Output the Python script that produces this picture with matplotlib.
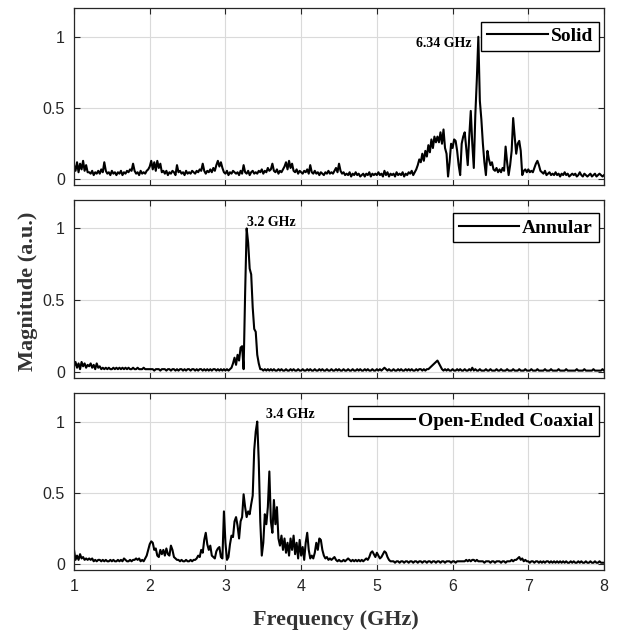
import numpy as np
import matplotlib
matplotlib.use('Agg')
from matplotlib import pyplot as plt

# frequency axis of the spectra, 1 to 8 GHz in 0.02 GHz steps (351 samples)
freq = np.linspace(1, 8, 351)

# normalised magnitudes, one row = 0.2 GHz
solid = [
    .10, .06, .12, .05, .11, .07, .13, .06, .10, .05,  # 1.0
    .05, .04, .06, .03, .05, .04, .06, .04, .07, .05,  # 1.2
    .12, .06, .04, .05, .03, .06, .04, .05, .03, .05,  # 1.4
    .04, .06, .03, .05, .04, .06, .05, .07, .06, .11,  # 1.6
    .06, .04, .05, .03, .06, .04, .05, .04, .06, .07,  # 1.8
    .09, .13, .07, .12, .06, .13, .08, .11, .05, .06,  # 2.0
    .04, .06, .03, .05, .04, .06, .05, .03, .10, .05,  # 2.2
    .06, .04, .05, .03, .06, .04, .05, .04, .06, .05,  # 2.4
    .04, .06, .05, .07, .06, .11, .06, .04, .06, .05,  # 2.6
    .07, .05, .08, .06, .10, .13, .09, .12, .08, .05,  # 2.8
    .04, .06, .03, .05, .04, .06, .05, .04, .05, .03,  # 3.0
    .06, .04, .10, .05, .04, .06, .03, .05, .06, .04,  # 3.2
    .05, .04, .06, .05, .07, .04, .06, .05, .08, .06,  # 3.4
    .07, .11, .06, .05, .07, .04, .06, .05, .07, .09,  # 3.6
    .12, .07, .13, .08, .11, .06, .05, .07, .04, .06,  # 3.8
    .05, .04, .06, .05, .07, .04, .10, .05, .04, .06,  # 4.0
    .04, .05, .03, .05, .04, .03, .05, .04, .06, .04,  # 4.2
    .05, .04, .06, .08, .05, .11, .06, .04, .05, .03,  # 4.4
    .04, .03, .05, .02, .04, .03, .05, .03, .04, .02,  # 4.6
    .03, .04, .02, .04, .03, .05, .02, .04, .03, .04,  # 4.8
    .03, .05, .03, .04, .02, .06, .03, .05, .02, .04,  # 5.0
    .03, .04, .02, .05, .03, .04, .03, .05, .02, .04,  # 5.2
    .03, .05, .04, .06, .03, .05, .07, .10, .14, .12,  # 5.4
    .18, .13, .20, .16, .24, .19, .28, .22, .30, .26,  # 5.6
    .30, .26, .33, .25, .35, .22, .18, .02, .12, .25,  # 5.8
    .22, .28, .27, .20, .10, .03, .25, .30, .33, .22,  # 6.0
    .10, .30, .48, .25, .08, .45, .70, 1.0, .55, .42,  # 6.2
    .25, .12, .03, .20, .14, .10, .12, .07, .06, .08,  # 6.4
    .05, .07, .05, .08, .06, .23, .12, .03, .10, .20,  # 6.6
    .43, .30, .18, .25, .27, .20, .03, .06, .07, .05,  # 6.8
    .07, .05, .06, .05, .08, .11, .13, .10, .06, .05,  # 7.0
    .04, .06, .03, .04, .05, .03, .04, .03, .05, .03,  # 7.2
    .04, .02, .04, .03, .05, .03, .04, .02, .03, .04,  # 7.4
    .03, .04, .02, .03, .05, .03, .02, .04, .03, .02,  # 7.6
    .03, .04, .02, .03, .04, .02, .03, .04, .03, .02,  # 7.8
    .03]

annular = [
    .04, .07, .03, .06, .02, .07, .04, .06, .03, .05,  # 1.0
    .04, .06, .03, .05, .02, .06, .03, .04, .02, .03,  # 1.2
    .02, .03, .02, .03, .02, .02, .03, .02, .03, .02,  # 1.4
    .03, .02, .03, .02, .03, .02, .03, .02, .02, .03,  # 1.6
    .02, .02, .03, .02, .02, .02, .03, .02, .02, .02,  # 1.8
    .02, .02, .02, .01, .02, .02, .02, .01, .02, .02,  # 2.0
    .02, .01, .02, .02, .01, .02, .02, .01, .02, .01,  # 2.2
    .02, .02, .01, .02, .01, .02, .02, .01, .02, .02,  # 2.4
    .01, .02, .01, .02, .02, .01, .02, .01, .02, .01,  # 2.6
    .02, .01, .02, .02, .01, .02, .01, .02, .01, .02,  # 2.8
    .01, .02, .01, .02, .03, .06, .10, .05, .12, .08,  # 3.0
    .17, .18, .02, .55, 1.0, .90, .72, .68, .45, .30,  # 3.2
    .28, .12, .06, .02, .02, .01, .02, .01, .02, .01,  # 3.4
    .02, .01, .02, .01, .01, .02, .01, .02, .01, .01,  # 3.6
    .02, .01, .01, .02, .01, .02, .01, .01, .02, .01,  # 3.8
    .01, .02, .01, .01, .02, .01, .02, .01, .01, .02,  # 4.0
    .01, .01, .02, .01, .02, .01, .01, .02, .01, .01,  # 4.2
    .02, .01, .01, .02, .01, .02, .01, .01, .02, .01,  # 4.4
    .01, .02, .01, .01, .02, .01, .01, .02, .01, .02,  # 4.6
    .01, .01, .02, .01, .02, .01, .01, .02, .01, .01,  # 4.8
    .02, .01, .02, .01, .02, .03, .02, .01, .02, .01,  # 5.0
    .01, .02, .01, .01, .02, .01, .02, .01, .01, .02,  # 5.2
    .01, .02, .01, .02, .01, .01, .02, .01, .02, .02,  # 5.4
    .01, .02, .01, .02, .02, .03, .04, .05, .06, .07,  # 5.6
    .08, .06, .04, .02, .01, .02, .01, .02, .01, .01,  # 5.8
    .02, .01, .01, .02, .01, .02, .01, .01, .02, .01,  # 6.0
    .01, .02, .01, .03, .01, .02, .01, .01, .02, .01,  # 6.2
    .01, .01, .02, .01, .01, .02, .01, .01, .01, .02,  # 6.4
    .01, .01, .02, .01, .01, .01, .02, .01, .01, .01,  # 6.6
    .02, .01, .01, .01, .02, .01, .01, .01, .02, .01,  # 6.8
    .01, .01, .02, .01, .01, .01, .02, .01, .01, .01,  # 7.0
    .01, .02, .01, .01, .01, .02, .01, .01, .01, .01,  # 7.2
    .02, .01, .01, .01, .01, .02, .01, .01, .01, .01,  # 7.4
    .01, .01, .02, .01, .01, .01, .01, .02, .01, .01,  # 7.6
    .01, .01, .01, .02, .01, .01, .01, .01, .01, .02,  # 7.8
    .01]

coaxial = [
    .10, .03, .06, .03, .07, .04, .05, .03, .04, .03,  # 1.0
    .04, .03, .04, .02, .03, .02, .03, .03, .02, .03,  # 1.2
    .02, .03, .02, .02, .03, .02, .03, .02, .02, .03,  # 1.4
    .02, .03, .02, .04, .03, .02, .02, .03, .02, .03,  # 1.6
    .03, .04, .03, .04, .02, .03, .02, .04, .06, .10,  # 1.8
    .14, .16, .15, .10, .11, .06, .05, .10, .07, .10,  # 2.0
    .06, .11, .07, .06, .13, .10, .05, .04, .03, .03,  # 2.2
    .02, .03, .02, .02, .03, .02, .02, .03, .02, .03,  # 2.4
    .03, .04, .06, .05, .10, .08, .17, .22, .14, .10,  # 2.6
    .13, .06, .05, .04, .09, .11, .12, .05, .04, .37,  # 2.8
    .15, .03, .05, .14, .20, .19, .30, .33, .27, .18,  # 3.0
    .30, .33, .49, .40, .33, .37, .35, .42, .48, .80,  # 3.2
    .93, 1.0, .72, .30, .06, .15, .35, .28, .40, .65,  # 3.4
    .30, .22, .45, .28, .40, .18, .13, .20, .10, .18,  # 3.6
    .08, .15, .06, .18, .10, .20, .07, .15, .04, .17,  # 3.8
    .06, .12, .03, .15, .22, .10, .04, .06, .04, .08,  # 4.0
    .15, .10, .18, .17, .10, .06, .04, .05, .03, .04,  # 4.2
    .03, .04, .05, .03, .02, .03, .02, .02, .03, .02,  # 4.4
    .03, .04, .03, .02, .03, .02, .03, .02, .03, .02,  # 4.6
    .03, .02, .03, .04, .03, .05, .08, .09, .07, .05,  # 4.8
    .08, .06, .04, .05, .07, .09, .08, .05, .03, .02,  # 5.0
    .02, .02, .01, .02, .02, .01, .02, .02, .01, .02,  # 5.2
    .02, .01, .02, .02, .01, .02, .02, .01, .02, .02,  # 5.4
    .01, .02, .02, .01, .02, .02, .01, .02, .02, .01,  # 5.6
    .02, .02, .01, .02, .02, .01, .02, .02, .02, .01,  # 5.8
    .02, .02, .01, .02, .02, .02, .02, .02, .02, .03,  # 6.0
    .02, .03, .02, .03, .03, .02, .03, .02, .02, .02,  # 6.2
    .02, .01, .02, .02, .02, .01, .02, .02, .01, .02,  # 6.4
    .02, .02, .01, .02, .02, .01, .02, .02, .02, .03,  # 6.6
    .02, .03, .03, .04, .05, .03, .04, .02, .03, .02,  # 6.8
    .02, .01, .02, .02, .01, .02, .02, .01, .02, .01,  # 7.0
    .02, .01, .02, .02, .01, .02, .01, .02, .01, .02,  # 7.2
    .01, .02, .01, .02, .01, .02, .01, .01, .02, .01,  # 7.4
    .02, .01, .01, .02, .01, .02, .01, .01, .02, .01,  # 7.6
    .01, .02, .01, .01, .02, .01, .01, .02, .01, .01,  # 7.8
    .01]

names = ['Solid', 'Annular', 'Open-Ended Coaxial']
peak_labels = ['6.34 GHz', '3.2 GHz', '3.4 GHz']
# where each peak label sits (GHz, magnitude) and its alignment
label_pos = [(6.25, 0.95, 'right'), (3.28, 1.04, 'left'), (3.53, 1.05, 'left')]

serif = ['Liberation Serif', 'DejaVu Serif']
sans = ['Liberation Sans', 'DejaVu Sans']
gris = '#262626'

fig = plt.figure(figsize=(6.24, 6.36), dpi=100)
rects = [[0.1186, 0.709, 0.8494, 0.278],
         [0.1186, 0.406, 0.8494, 0.280],
         [0.1186, 0.104, 0.8494, 0.278]]

for i, serie in enumerate([solid, annular, coaxial]):
    ax = fig.add_axes(rects[i])
    ax.plot(freq, serie, color='black', lw=1.5, label=names[i])
    ax.set_xlim(1, 8)
    ax.set_ylim(-0.04, 1.2)
    ax.set_xticks(range(1, 9))
    ax.set_yticks([0, 0.5, 1])
    ax.set_yticklabels(['0', '0.5', '1'])
    ax.grid(True, color='#dadada', lw=0.8)
    ax.set_axisbelow(True)
    ax.tick_params(direction='in', top=True, right=True, length=4,
                   labelsize=11.5, colors=gris, pad=6.5)
    for lab in ax.get_xticklabels() + ax.get_yticklabels():
        lab.set_family(sans)
    for s in ax.spines.values():
        s.set_color(gris)
        s.set_linewidth(0.9)
    if i < 2:
        ax.tick_params(labelbottom=False)
    x, y, ha = label_pos[i]
    ax.text(x, y, peak_labels[i], ha=ha, va='center', fontsize=10,
            fontweight='bold', family=serif)
    leg = ax.legend(loc='upper right', bbox_to_anchor=(0.99, 0.925),
                    borderaxespad=0, fancybox=False, framealpha=1,
                    edgecolor='black', handlelength=3.1, handletextpad=0.15,
                    borderpad=0.3,
                    prop={'family': serif, 'weight': 'bold', 'size': 14})
    leg.get_frame().set_linewidth(1.0)

fig.text(0.045, 0.542, 'Magnitude (a.u.)', rotation=90, ha='center', va='center',
         fontsize=16, fontweight='bold', family=serif, color='#333333')
fig.text(0.538, 0.025, 'Frequency (GHz)', ha='center', va='center',
         fontsize=16, fontweight='bold', family=serif, color='#333333')

fig.savefig('out.png', dpi=100)
